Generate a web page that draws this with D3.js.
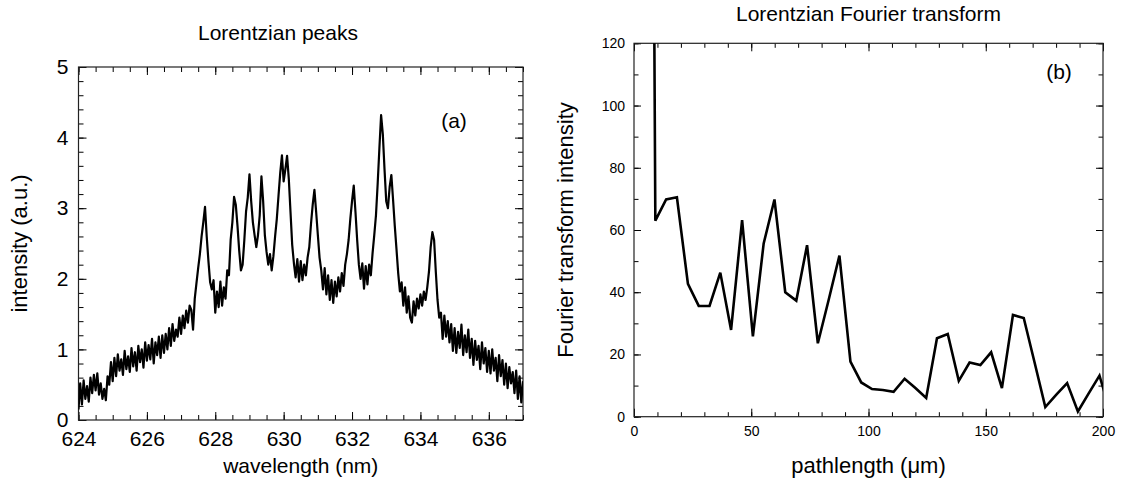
<!DOCTYPE html>
<html>
<head>
<meta charset="utf-8">
<script src="https://cdn.jsdelivr.net/npm/d3@7"></script>
<style>
  body { margin: 0; background: #fff; }
  svg text { font-family: "Liberation Sans", Arial, Helvetica, sans-serif; fill: #000; }
</style>
</head>
<body>
<div id="chart"></div>
<script>
// (a) spectrum, sampled every 0.05 nm starting at 624 nm (one row = 0.5 nm)
const wavelengthStart = 624;
const wavelengthStep = 0.05;
const intensity = [
  0.15, 0.52, 0.22, 0.56, 0.30, 0.48, 0.26, 0.60, 0.38, 0.64,
  0.42, 0.66, 0.36, 0.52, 0.30, 0.44, 0.28, 0.62, 0.50, 0.82,
  0.55, 0.88, 0.62, 0.93, 0.70, 0.86, 0.64, 0.98, 0.72, 0.90,
  0.68, 1.02, 0.76, 0.96, 0.70, 1.05, 0.82, 1.00, 0.74, 1.10,
  0.84, 1.06, 0.86, 1.15, 0.80, 1.10, 0.92, 1.18, 0.88, 1.20,
  0.95, 1.22, 1.00, 1.30, 1.05, 1.36, 1.12, 1.28, 1.18, 1.45,
  1.22, 1.48, 1.30, 1.55, 1.38, 1.62, 1.56, 1.28, 1.72, 1.94,
  2.15, 2.35, 2.60, 2.80, 3.02, 2.60, 2.25, 1.95, 1.85, 1.98,
  1.52, 1.82, 1.60, 1.96, 1.62, 1.88, 1.72, 2.12, 2.05, 2.55,
  2.80, 3.16, 3.05, 2.75, 2.40, 2.12, 2.20, 2.55, 2.95, 3.15,
  3.48, 3.10, 2.80, 2.62, 2.45, 2.62, 2.90, 3.45, 3.10, 2.62,
  2.38, 2.20, 2.35, 2.12, 2.32, 2.60, 2.85, 3.18, 3.50, 3.75,
  3.38, 3.55, 3.74, 3.42, 2.95, 2.48, 2.22, 2.02, 2.28, 1.96,
  2.25, 1.98, 2.20, 2.05, 2.30, 2.45, 2.78, 3.05, 3.26, 2.95,
  2.62, 2.30, 2.12, 1.85, 2.15, 1.78, 2.05, 1.70, 1.98, 1.66,
  1.96, 1.75, 2.02, 1.82, 2.08, 1.90, 2.20, 2.35, 2.55, 2.85,
  3.10, 3.32, 2.95, 2.55, 2.20, 2.00, 2.22, 1.86, 2.18, 1.92,
  2.20, 2.05, 2.36, 2.62, 2.90, 3.35, 3.85, 4.32, 4.05, 3.55,
  3.10, 3.00, 3.30, 3.47, 3.12, 2.75, 2.42, 2.08, 1.82, 1.95,
  1.62, 1.88, 1.52, 1.75, 1.45, 1.38, 1.68, 1.48, 1.72, 1.58,
  1.78, 1.62, 1.82, 1.70, 1.88, 2.10, 2.45, 2.66, 2.55, 2.10,
  1.70, 1.45, 1.52, 1.15, 1.48, 1.18, 1.40, 1.10, 1.36, 0.98,
  1.30, 0.95, 1.25, 1.02, 1.35, 0.92, 1.20, 0.96, 1.28, 0.88,
  1.15, 0.78, 1.12, 0.85, 1.05, 0.72, 1.10, 0.80, 1.02, 0.68,
  0.98, 0.66, 1.00, 0.70, 0.88, 0.55, 0.92, 0.62, 0.85, 0.50,
  0.80, 0.45, 0.75, 0.52, 0.68, 0.38, 0.70, 0.30, 0.62, 0.25,
  0.55
];
const wavelengthTicks = [624, 626, 628, 630, 632, 634, 636];
const intensityTicks = [0, 1, 2, 3, 4, 5];

// (b) Fourier transform
const pathlength = [4.5, 9.1, 13.7, 18.3, 23.0, 27.6, 32.2, 36.8, 41.4, 46.1, 50.7,
  55.3, 59.9, 64.5, 69.2, 73.8, 78.4, 83.0, 87.6, 92.3, 96.9, 101.5, 106.1, 110.7,
  115.4, 120.0, 124.6, 129.2, 133.8, 138.5, 143.1, 147.7, 152.3, 156.9, 161.6,
  166.2, 170.8, 175.4, 180.0, 184.7, 189.3, 193.9, 198.5, 203.1];
const fourierIntensity = [700, 63, 69.8, 70.5, 42.7, 35.6, 35.6, 46.3, 27.9, 63.2, 25.8,
  55.7, 69.8, 40, 37.3, 55.1, 23.6, 37.5, 51.8, 17.7, 11, 8.9, 8.6, 8,
  12.2, 9.2, 6, 25.2, 26.6, 11.5, 17.4, 16.6, 20.7, 9.2, 32.7,
  31.7, 17.5, 3.1, 7, 10.8, 1.7, 7.5, 13.2, 1.5];
const pathlengthTicks = [0, 50, 100, 150, 200];
const fourierTicks = [0, 20, 40, 60, 80, 100, 120];

const width = 1124, height = 484;
const svg = d3.select("#chart").append("svg")
  .attr("width", width)
  .attr("height", height);

// inward ticks, no domain line (frame is drawn separately)
function ticks(g, axis, scale, values, size, fontSize, pad) {
  const a = axis(scale).tickValues(values).tickSizeInner(-size).tickSizeOuter(0).tickPadding(pad);
  a.tickFormat(fontSize ? d3.format("d") : "");
  g.call(a);
  g.select(".domain").remove();
  g.selectAll("line").attr("stroke", "#000").attr("stroke-width", 1);
  if (fontSize) g.selectAll("text").style("font-size", fontSize + "px");
}

function panel(opt) {
  const { x, y, xMajor, xMinor, yMajor, yMinor, id } = opt;
  const [x0, x1] = x.range();
  const [y0, y1] = y.range();
  const g = svg.append("g");

  g.append("clipPath").attr("id", id)
    .append("rect")
    .attr("x", x0).attr("y", y1)
    .attr("width", x1 - x0).attr("height", y0 - y1);

  // bottom / top
  ticks(g.append("g").attr("transform", `translate(0,${y0})`), d3.axisBottom, x, xMinor, opt.minorLen);
  ticks(g.append("g").attr("transform", `translate(0,${y0})`), d3.axisBottom, x, xMajor, opt.xMajorLen, opt.xFont, opt.xPad);
  ticks(g.append("g").attr("transform", `translate(0,${y1})`), d3.axisTop, x, xMinor, opt.minorLen);
  ticks(g.append("g").attr("transform", `translate(0,${y1})`), d3.axisTop, x, xMajor, opt.xMajorLen);
  // left / right
  ticks(g.append("g").attr("transform", `translate(${x0},0)`), d3.axisLeft, y, yMinor, opt.minorLen);
  ticks(g.append("g").attr("transform", `translate(${x0},0)`), d3.axisLeft, y, yMajor, opt.yMajorLen, opt.yFont, opt.yPad);
  ticks(g.append("g").attr("transform", `translate(${x1},0)`), d3.axisRight, y, yMinor, opt.minorLen);
  ticks(g.append("g").attr("transform", `translate(${x1},0)`), d3.axisRight, y, yMajor, opt.yMajorLen);

  g.append("rect")
    .attr("x", x0).attr("y", y1)
    .attr("width", x1 - x0).attr("height", y0 - y1)
    .attr("fill", "none")
    .attr("stroke", "#222")
    .attr("stroke-width", 1.2);

  return g;
}

// ---------- (a) Lorentzian peaks ----------
const xA = d3.scaleLinear().domain([624, 637]).range([78.5, 523]);
const yA = d3.scaleLinear().domain([0, 5]).range([420, 67]);

const gA = panel({
  id: "clipA", x: xA, y: yA,
  xMajor: wavelengthTicks, xMinor: d3.range(624, 637.001, 0.5),
  yMajor: intensityTicks, yMinor: d3.range(0, 5.001, 0.2),
  minorLen: 5, xMajorLen: 8, yMajorLen: 8,
  xFont: 21, xPad: 11, yFont: 21, yPad: 10
});

const spectrum = intensity.map((v, i) => ({ w: wavelengthStart + i * wavelengthStep, v }));
gA.append("path")
  .datum(spectrum)
  .attr("clip-path", "url(#clipA)")
  .attr("fill", "none")
  .attr("stroke", "#000")
  .attr("stroke-width", 2.2)
  .attr("stroke-linejoin", "round")
  .attr("d", d3.line().x(d => xA(d.w)).y(d => yA(d.v)));

svg.append("text").attr("x", 278).attr("y", 40)
  .attr("text-anchor", "middle").style("font-size", "21px")
  .text("Lorentzian peaks");
svg.append("text").attr("x", 300.75).attr("y", 473)
  .attr("text-anchor", "middle").style("font-size", "21px")
  .text("wavelength (nm)");
svg.append("text").attr("transform", "translate(27,243.5) rotate(-90)")
  .attr("text-anchor", "middle").style("font-size", "22px")
  .text("intensity (a.u.)");
svg.append("text").attr("x", 454).attr("y", 127.5)
  .attr("text-anchor", "middle").style("font-size", "21px")
  .text("(a)");

// ---------- (b) Lorentzian Fourier transform ----------
const xB = d3.scaleLinear().domain([0, 200]).range([634, 1103]);
const yB = d3.scaleLinear().domain([0, 120]).range([416.7, 43.3]);

const gB = panel({
  id: "clipB", x: xB, y: yB,
  xMajor: pathlengthTicks, xMinor: d3.range(0, 200.001, 10),
  yMajor: fourierTicks, yMinor: d3.range(0, 120.001, 10),
  minorLen: 4.5, xMajorLen: 8, yMajorLen: 7,
  xFont: 14, xPad: 9, yFont: 14, yPad: 9
});

gB.append("path")
  .datum(pathlength.map((p, i) => ({ p, v: fourierIntensity[i] })))
  .attr("clip-path", "url(#clipB)")
  .attr("fill", "none")
  .attr("stroke", "#000")
  .attr("stroke-width", 2.6)
  .attr("stroke-linejoin", "miter")
  .attr("d", d3.line().x(d => xB(d.p)).y(d => yB(d.v)));

svg.append("text").attr("x", 868.5).attr("y", 21)
  .attr("text-anchor", "middle").style("font-size", "21px")
  .text("Lorentzian Fourier transform");
svg.append("text").attr("x", 868.5).attr("y", 473)
  .attr("text-anchor", "middle").style("font-size", "22px")
  .text("pathlength (\u03bcm)");
svg.append("text").attr("transform", "translate(573,230) rotate(-90)")
  .attr("text-anchor", "middle").style("font-size", "22px")
  .text("Fourier transform intensity");
svg.append("text").attr("x", 1059).attr("y", 78.5)
  .attr("text-anchor", "middle").style("font-size", "21px")
  .text("(b)");
</script>
</body>
</html>
